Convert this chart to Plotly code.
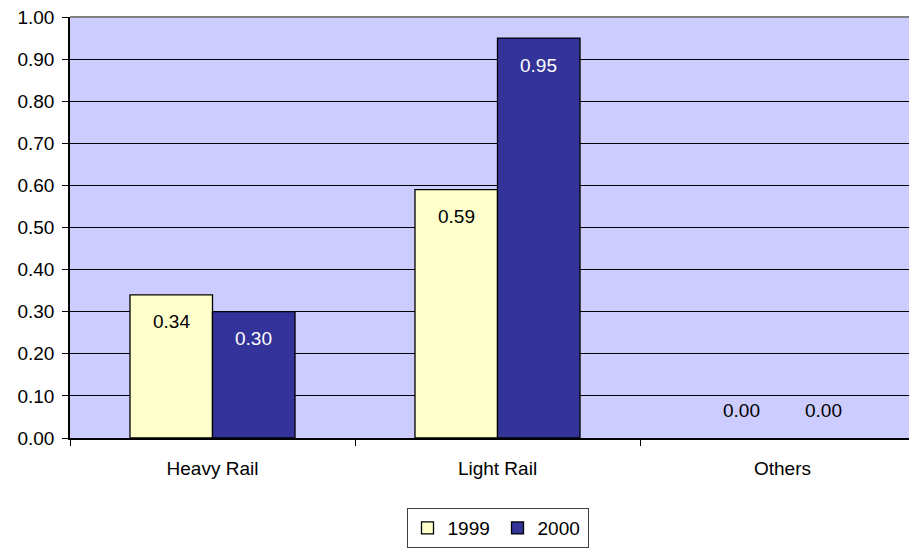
import plotly.graph_objects as go

# data
categories = ["Heavy Rail", "Light Rail", "Others"]
years = ["1999", "2000"]
values_1999 = [0.34, 0.59, 0.00]
values_2000 = [0.30, 0.95, 0.00]
y_ticks = [0.0, 0.1, 0.2, 0.3, 0.4, 0.5, 0.6, 0.7, 0.8, 0.9, 1.0]

FONT = "Liberation Sans, Arial, sans-serif"
FS = 19
fill_colors = {"1999": "#FFFFCC", "2000": "#333399"}
text_colors = {"1999": "black", "2000": "white"}

fig = go.Figure()
series = {"1999": values_1999, "2000": values_2000}
for yr in years:
    vals = series[yr]
    fig.add_trace(go.Bar(
        name=yr,
        x=categories,
        y=vals,
        marker=dict(color=fill_colors[yr],
                    line=dict(color="black", width=[1.3 if v > 0 else 0 for v in vals])),
        hoverinfo="x+y",
    ))

# value labels a bit below the top of each bar (above the axis for zeros)
bar_px = 82.5
for i, yr in enumerate(years):
    shift = (i - 0.5) * bar_px
    for cat, v in zip(categories, series[yr]):
        fig.add_annotation(
            x=cat, y=v, xref="x", yref="y",
            text=f"{v:.2f}", showarrow=False,
            xshift=shift, yshift=-27 if v > 0 else 28,
            font=dict(family=FONT, size=FS,
                      color=text_colors[yr] if v > 0 else "black"),
        )

# grey border along the top of the plot area
fig.add_shape(type="line", xref="paper", yref="paper", x0=0, x1=1, y0=1, y1=1,
              line=dict(color="#808080", width=2))

# page body has an 8px margin, so margins are offset by that
fig.update_layout(
    width=917, height=550,
    margin=dict(l=62, r=0, t=9, b=120, autoexpand=False),
    paper_bgcolor="white",
    plot_bgcolor="#CCCCFF",
    barmode="group",
    bargap=0.421,
    bargroupgap=0,
    font=dict(family=FONT, size=FS, color="black"),
    showlegend=True,
    legend=dict(
        orientation="h",
        x=0.5, xanchor="center",
        y=-0.214, yanchor="middle",
        bordercolor="#404040", borderwidth=1,
        bgcolor="white",
        font=dict(family=FONT, size=FS),
        itemwidth=30,
        entrywidth=45, entrywidthmode="pixels",
        tracegroupgap=0,
    ),
    xaxis=dict(
        range=[-0.5, 2.5],
        showgrid=False,
        showline=True, linecolor="black", linewidth=1.5,
        ticks="outside", tickson="boundaries", ticklen=6, tickcolor="black",
        ticklabelstandoff=12,
        automargin=False,
        fixedrange=True,
    ),
    yaxis=dict(
        range=[0, 1.0],
        tickvals=y_ticks,
        tickformat=".2f",
        showgrid=True, gridcolor="black", gridwidth=1,
        zeroline=False,
        showline=True, linecolor="black", linewidth=1.5,
        ticks="outside", ticklen=6, tickcolor="black",
        ticklabelstandoff=4,
        ticklabeloverflow="allow",
        automargin=False,
        fixedrange=True,
    ),
)

fig.write_html("out.html")
